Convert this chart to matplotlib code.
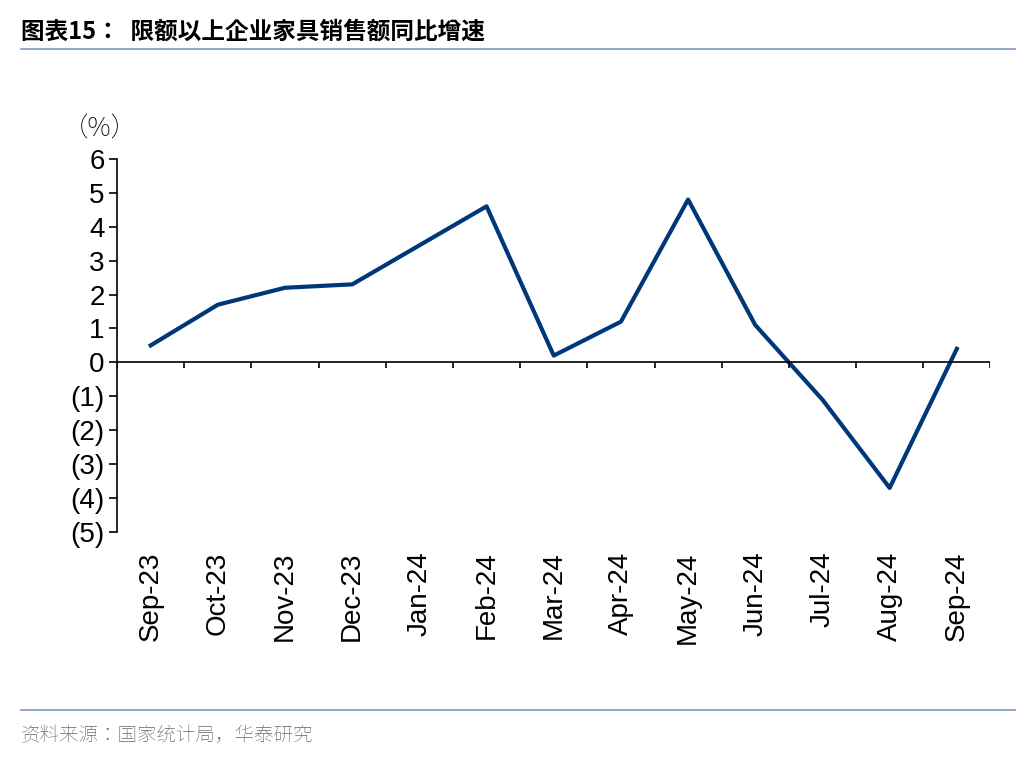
import matplotlib
matplotlib.use("Agg")
import matplotlib.pyplot as plt
from matplotlib import font_manager as fm
import numpy as np

months = ["Sep-23","Oct-23","Nov-23","Dec-23","Jan-24","Feb-24","Mar-24","Apr-24","May-24","Jun-24","Jul-24","Aug-24","Sep-24"]
growth = [0.5, 1.7, 2.2, 2.3, 3.45, 4.6, 0.2, 1.2, 4.8, 1.1, -1.1, -3.7, 0.4]
yticks = [6,5,4,3,2,1,0,-1,-2,-3,-4,-5]
ylabels = ["6","5","4","3","2","1","0","(1)","(2)","(3)","(4)","(5)"]

cjk_files = [f for f in fm.findSystemFonts() if "CJK" in f or "cjk" in f]
cjk_files.sort(key=lambda f: (("SC" not in f), ("Bold" in f)))
def cjk(size, bold=False):
    if cjk_files:
        cand = [f for f in cjk_files if ("Bold" in f) == bold] or cjk_files
        return fm.FontProperties(fname=cand[0], size=size)
    return fm.FontProperties(family="Noto Sans CJK SC", size=size, weight="bold" if bold else "normal")

plt.rcParams["font.family"] = ["Liberation Sans"]
fig = plt.figure(figsize=(10.36, 7.6), dpi=100)
ax = fig.add_axes([0.113, 0.30, 0.843, 0.491])
x = np.arange(len(months))
ax.plot(x, growth, color="#003778", lw=3)
ax.set_xlim(-0.5, len(months) - 0.5)
ax.set_ylim(-5, 6)
ax.set_yticks(yticks)
ax.set_yticklabels(ylabels, fontsize=20)
ax.tick_params(axis="y", direction="out", length=6, width=1.2, pad=3)
ax.set_xticks(x)
ax.set_xticklabels(months, rotation=90, fontsize=20)
ax.tick_params(axis="x", length=0, pad=14)
for s in ["top", "right", "bottom"]:
    ax.spines[s].set_visible(False)
ax.spines["left"].set_linewidth(1.2)
ax.axhline(0, color="black", lw=1.2)
bounds = np.arange(len(months) + 1) - 0.5
ax.vlines(bounds, -0.18, 0, color="black", lw=1.2)
ax.text(-0.75, 6.5, "（%）", fontproperties=cjk(19), ha="center", va="bottom")

fig.text(0.02, 0.958, "图表15：  限额以上企业家具销售额同比增速", fontproperties=cjk(17, True), va="center")
fig.add_artist(plt.Line2D([0.02, 0.98], [0.935, 0.935], color="#7f96c0", lw=1.2))
fig.add_artist(plt.Line2D([0.02, 0.98], [0.066, 0.066], color="#7f96c0", lw=1.2))
fig.text(0.02, 0.033, "资料来源：国家统计局，华泰研究", fontproperties=cjk(14), color="#666666", va="center")
fig.savefig("out.png", dpi=100)
